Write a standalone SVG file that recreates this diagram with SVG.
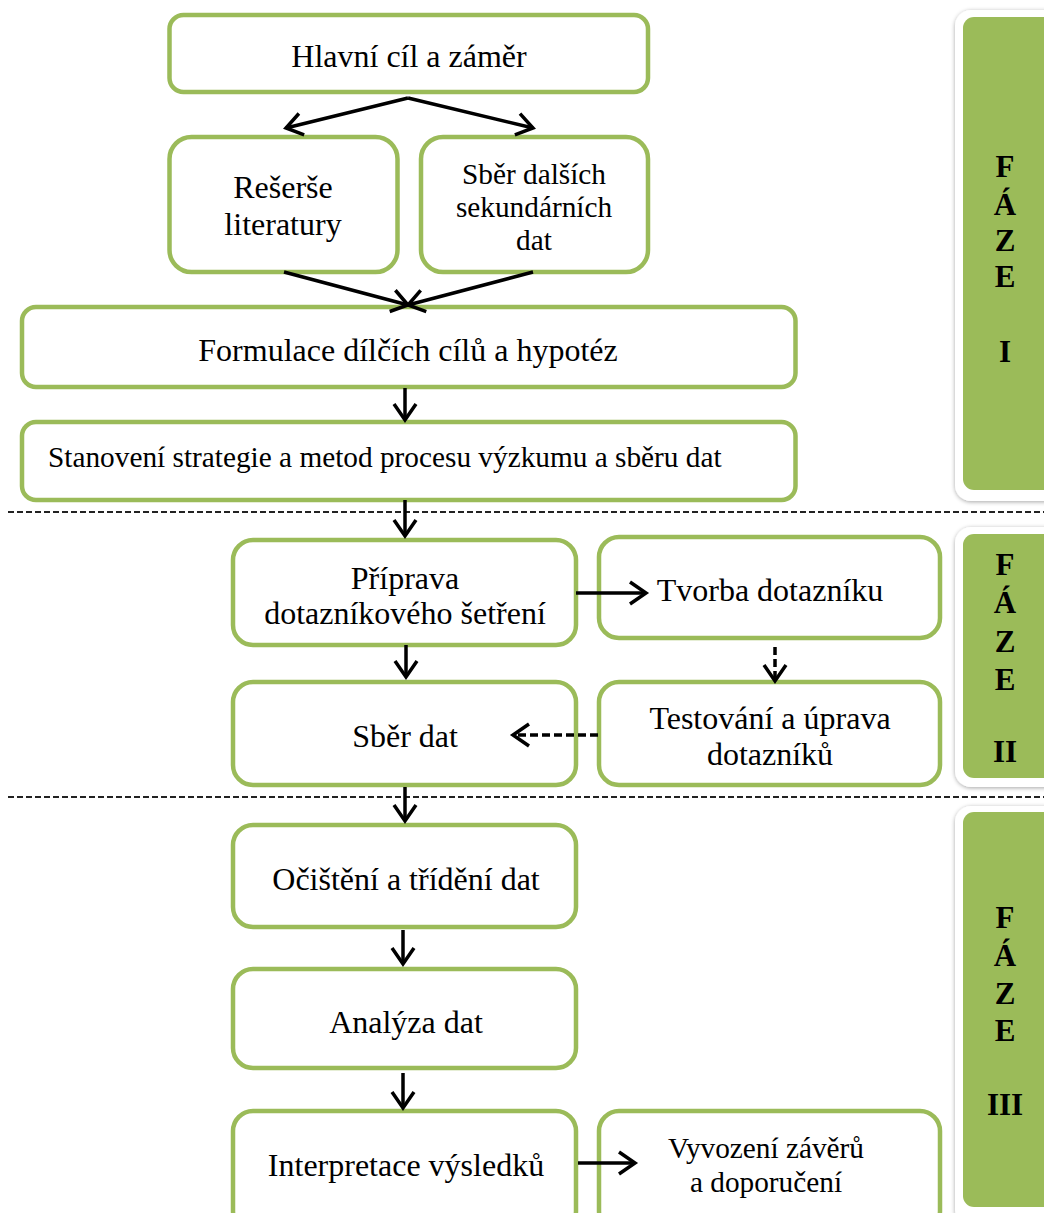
<svg xmlns="http://www.w3.org/2000/svg" width="1044" height="1213" viewBox="0 0 1044 1213">
<style>
.box{fill:#fff;stroke:#9BBB59;stroke-width:4.5}
.t{font-family:"Liberation Serif","Times New Roman",serif;font-size:32px;fill:#000;text-anchor:middle}
.s{font-size:29.3px}
.ph{font-family:"Liberation Serif","Times New Roman",serif;font-size:31px;font-weight:bold;fill:#000;text-anchor:middle}
.outer{fill:#fff;filter:url(#sh)}
.inner{fill:#9BBB59}
.c{stroke:#000;stroke-width:3.5;fill:none;marker-end:url(#ah)}
.d{stroke-dasharray:8 4}
.sep{stroke:#222;stroke-width:2;stroke-dasharray:6 3}
</style>
<defs>
<marker id="ah" markerUnits="userSpaceOnUse" markerWidth="22" markerHeight="26" refX="18" refY="13" orient="auto">
<path d="M2,2 L18,13 L2,24" stroke="#000" stroke-width="3.5" fill="none"/>
</marker>
<filter id="sh" x="-20%" y="-5%" width="140%" height="110%">
<feDropShadow dx="0" dy="1" stdDeviation="2" flood-color="#000" flood-opacity="0.35"/>
</filter>
</defs>

<g id="phase1">
<rect class="outer" x="955" y="10" width="110" height="491" rx="16"/>
<rect class="inner" x="963" y="17" width="100" height="473" rx="11"/>
<text class="ph" x="1005" y="177">F</text>
<text class="ph" x="1005" y="215">Á</text>
<text class="ph" x="1005" y="251">Z</text>
<text class="ph" x="1005" y="287">E</text>
<text class="ph" x="1005" y="362">I</text>
</g>
<g id="phase2">
<rect class="outer" x="955" y="527" width="110" height="260" rx="16"/>
<rect class="inner" x="963" y="534" width="100" height="244" rx="11"/>
<text class="ph" x="1005" y="575">F</text>
<text class="ph" x="1005" y="613">Á</text>
<text class="ph" x="1005" y="652">Z</text>
<text class="ph" x="1005" y="690">E</text>
<text class="ph" x="1005" y="762">II</text>
</g>
<g id="phase3">
<rect class="outer" x="955" y="806" width="110" height="420" rx="16"/>
<rect class="inner" x="963" y="812" width="100" height="395" rx="11"/>
<text class="ph" x="1005" y="928">F</text>
<text class="ph" x="1005" y="966">Á</text>
<text class="ph" x="1005" y="1004">Z</text>
<text class="ph" x="1005" y="1041">E</text>
<text class="ph" x="1005" y="1115">III</text>
</g>

<g id="separators">
<line class="sep" x1="8" y1="512" x2="1044" y2="512"/>
<line class="sep" x1="8" y1="797" x2="1044" y2="797"/>
</g>

<g id="n1"><rect class="box" x="169.5" y="15" width="478.5" height="77" rx="14"/>
<text class="t" x="409" y="67">Hlavní cíl a záměr</text></g>
<g id="n2"><rect class="box" x="169.5" y="137" width="228" height="135" rx="22"/>
<text class="t" x="283" y="198">Rešerše</text><text class="t" x="283" y="235">literatury</text></g>
<g id="n3"><rect class="box" x="421" y="137" width="227" height="135" rx="22"/>
<text class="t s" x="534" y="184">Sběr dalších</text><text class="t s" x="534" y="217">sekundárních</text><text class="t s" x="534" y="250">dat</text></g>
<g id="n4"><rect class="box" x="22" y="307" width="773.5" height="80" rx="14"/>
<text class="t" x="408" y="361">Formulace dílčích cílů a hypotéz</text></g>
<g id="n5"><rect class="box" x="22" y="422" width="773.5" height="78" rx="14"/>
<text class="t s" x="48" y="467" style="text-anchor:start">Stanovení strategie a metod procesu výzkumu a sběru dat</text></g>
<g id="n6"><rect class="box" x="233" y="540" width="343" height="105" rx="20"/>
<text class="t" x="405" y="589">Příprava</text><text class="t" x="405" y="624">dotazníkového šetření</text></g>
<g id="n7"><rect class="box" x="599" y="537" width="341" height="101" rx="20"/>
<text class="t" x="770" y="601">Tvorba dotazníku</text></g>
<g id="n8"><rect class="box" x="233" y="682" width="343" height="103" rx="20"/>
<text class="t" x="405" y="747">Sběr dat</text></g>
<g id="n9"><rect class="box" x="599" y="682" width="341" height="103" rx="20"/>
<text class="t" x="770" y="729">Testování a úprava</text><text class="t" x="770" y="765">dotazníků</text></g>
<g id="n10"><rect class="box" x="233" y="825" width="343" height="102" rx="20"/>
<text class="t" x="406" y="890">Očištění a třídění dat</text></g>
<g id="n11"><rect class="box" x="233" y="969" width="343" height="99" rx="20"/>
<text class="t" x="406" y="1033">Analýza dat</text></g>
<g id="n12"><rect class="box" x="233" y="1111" width="343" height="120" rx="20"/>
<text class="t" x="406" y="1176">Interpretace výsledků</text></g>
<g id="n13"><rect class="box" x="599" y="1111" width="341" height="120" rx="20"/>
<text class="t s" x="766" y="1158">Vyvození závěrů</text><text class="t s" x="766" y="1192">a doporučení</text></g>

<g id="connectors">
<polyline class="c" points="408,98 286,128"/>
<polyline class="c" points="408,98 533,128"/>
<line class="c" x1="284" y1="272" x2="408" y2="305"/>
<line class="c" x1="533" y1="272" x2="408" y2="305"/>
<line class="c" x1="405" y1="388" x2="405" y2="420"/>
<line class="c" x1="405" y1="500" x2="405" y2="536"/>
<line class="c" x1="576" y1="593" x2="646" y2="593"/>
<line class="c" x1="406" y1="645" x2="406" y2="677"/>
<line class="c d" x1="775" y1="647" x2="775" y2="681"/>
<line class="c d" x1="598" y1="735" x2="513" y2="735"/>
<line class="c" x1="405" y1="787" x2="405" y2="821"/>
<line class="c" x1="403" y1="930" x2="403" y2="964"/>
<line class="c" x1="403" y1="1073" x2="403" y2="1108"/>
<line class="c" x1="578" y1="1163" x2="635" y2="1163"/>
</g>
</svg>
